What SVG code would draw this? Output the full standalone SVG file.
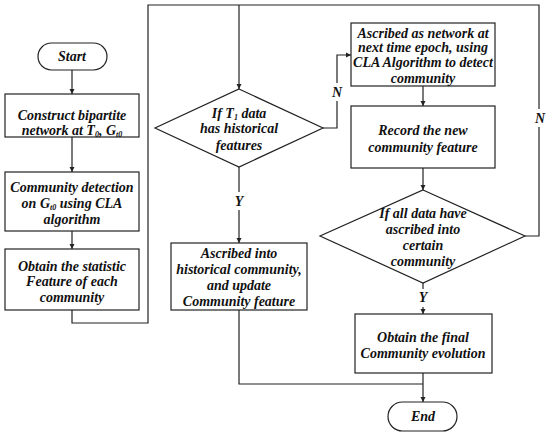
<svg xmlns="http://www.w3.org/2000/svg" width="550" height="433" viewBox="0 0 550 433">
<defs>
<style>
.n{fill:#fff;stroke:#222;stroke-width:1.2}
.t{font-family:"Liberation Serif","Times New Roman",serif;font-weight:bold;font-style:italic;font-size:14px;fill:#111;text-anchor:middle}
.c{fill:none;stroke:#222;stroke-width:1.2}
.lb{fill:#fff;stroke:none}
</style>
<marker id="ah" markerWidth="6" markerHeight="6" refX="5" refY="3" orient="auto" markerUnits="userSpaceOnUse">
<path d="M0,0.5 L5,3 L0,5.5 z" fill="#222"/>
</marker>
</defs>
<rect width="550" height="433" fill="#fff"/>
<g id="connectors">
<path class="c" d="M72,70 V94" marker-end="url(#ah)"/>
<path class="c" d="M72,137 V172" marker-end="url(#ah)"/>
<path class="c" d="M72,231 V249" marker-end="url(#ah)"/>
<path class="c" d="M72,310 V323 H148 V5 H539 V236 H525"/>
<path class="c" d="M239,5 V89" marker-end="url(#ah)"/>
<path class="c" d="M323,128 H337 V55 H351" marker-end="url(#ah)"/>
<path class="c" d="M239,167 V243" marker-end="url(#ah)"/>
<path class="c" d="M423,86 V106" marker-end="url(#ah)"/>
<path class="c" d="M423,168 V190" marker-end="url(#ah)"/>
<path class="c" d="M423,283 V314" marker-end="url(#ah)"/>
<path class="c" d="M239,310 V384 H423"/>
<path class="c" d="M423,373 V402" marker-end="url(#ah)"/>
<rect class="lb" x="329" y="83" width="16" height="18"/>
<text class="t" x="337" y="97">N</text>
<rect class="lb" x="231" y="192" width="16" height="18"/>
<text class="t" x="239" y="206">Y</text>
<rect class="lb" x="531" y="109" width="16" height="18"/>
<text class="t" x="540" y="123">N</text>
<rect class="lb" x="415" y="289" width="16" height="18"/>
<text class="t" x="423" y="302">Y</text>
</g>
<g id="start">
<rect class="n" x="38" y="43" width="69" height="27" rx="13.5"/>
<text class="t" x="72" y="61">Start</text>
</g>
<g id="box1">
<rect class="n" x="5" y="94" width="134" height="43"/>
<text class="t" x="72" y="120">Construct bipartite</text>
<text class="t" x="72" y="135">network at T<tspan font-size="8" dy="2">0</tspan><tspan dy="-2">, G</tspan><tspan font-size="8" dy="2">t0</tspan></text>
</g>
<g id="box2">
<rect class="n" x="5" y="172" width="134" height="59"/>
<text class="t" x="72" y="192">Community detection</text>
<text class="t" x="72" y="208">on G<tspan font-size="8" dy="2">t0</tspan><tspan dy="-2"> using CLA</tspan></text>
<text class="t" x="72" y="224">algorithm</text>
</g>
<g id="box3">
<rect class="n" x="5" y="249" width="134" height="61"/>
<text class="t" x="72" y="271">Obtain the statistic</text>
<text class="t" x="72" y="286">Feature of each</text>
<text class="t" x="72" y="302">community</text>
</g>
<g id="diamond1">
<polygon class="n" points="239,89 323,128 239,167 155,128"/>
<text class="t" x="239" y="118">If T<tspan font-size="8" dy="2">1</tspan><tspan dy="-2"> data</tspan></text>
<text class="t" x="239" y="133">has historical</text>
<text class="t" x="239" y="150">features</text>
</g>
<g id="box5">
<rect class="n" x="171" y="243" width="136" height="67"/>
<text class="t" x="239" y="258">Ascribed into</text>
<text class="t" x="239" y="274">historical community,</text>
<text class="t" x="239" y="290">and update</text>
<text class="t" x="239" y="306">Community feature</text>
</g>
<g id="box4">
<rect class="n" x="351" y="23" width="144" height="63"/>
<text class="t" x="423" y="38">Ascribed as network at</text>
<text class="t" x="423" y="52">next time epoch, using</text>
<text class="t" x="423" y="67">CLA Algorithm to detect</text>
<text class="t" x="423" y="83">community</text>
</g>
<g id="box6">
<rect class="n" x="351" y="106" width="144" height="62"/>
<text class="t" x="423" y="135">Record the new</text>
<text class="t" x="423" y="152">community feature</text>
</g>
<g id="diamond2">
<polygon class="n" points="423,190 525,236 423,283 320,236"/>
<text class="t" x="423" y="218">If all data have</text>
<text class="t" x="423" y="234">ascribed into</text>
<text class="t" x="423" y="250">certain</text>
<text class="t" x="423" y="266">community</text>
</g>
<g id="box7">
<rect class="n" x="355" y="314" width="137" height="59"/>
<text class="t" x="423" y="342">Obtain the final</text>
<text class="t" x="423" y="358">Community evolution</text>
</g>
<g id="end">
<rect class="n" x="388" y="402" width="69" height="29" rx="14.5"/>
<text class="t" x="423" y="421">End</text>
</g>
</svg>
